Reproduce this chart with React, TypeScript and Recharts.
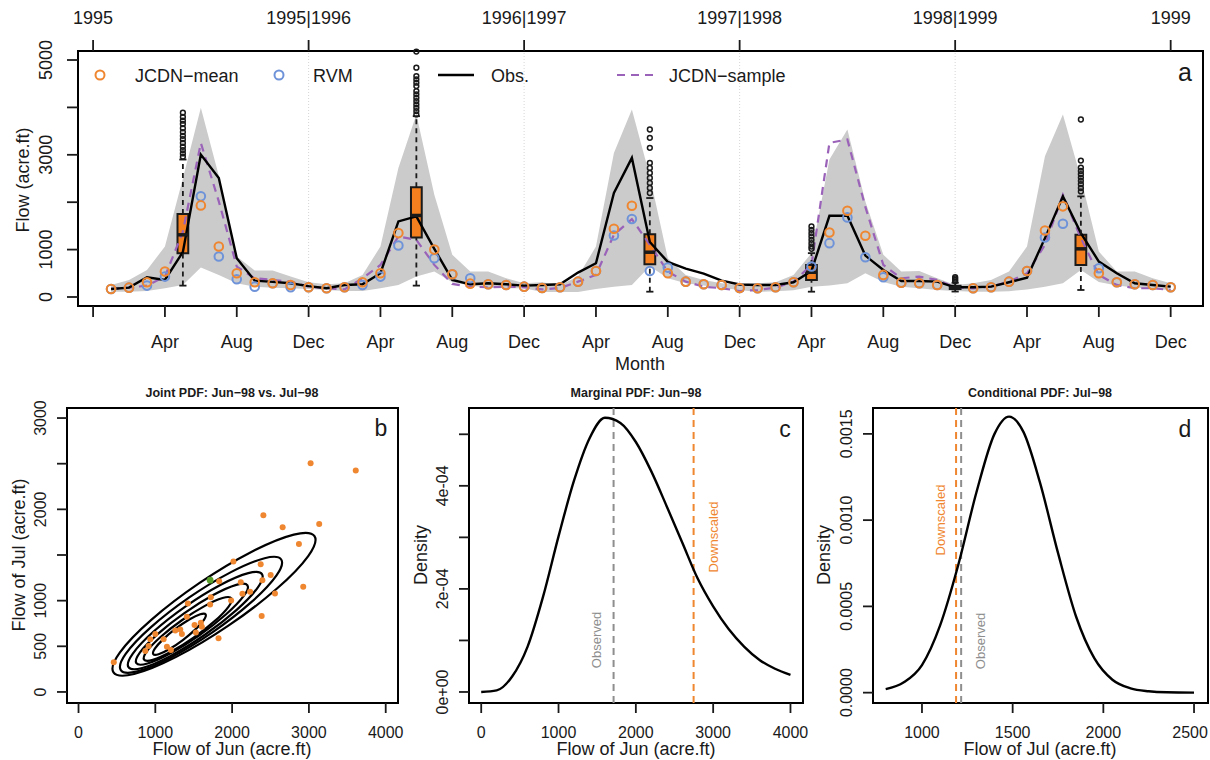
import React from 'react';
import {
  ComposedChart,
  LineChart,
  XAxis,
  YAxis,
  Line,
  Area,
  Scatter,
  ReferenceLine,
  ReferenceArea,
  ReferenceDot,
} from 'recharts';

const FONT = '"Liberation Sans", Arial, Helvetica, sans-serif';
const INK = '#1a1a1a';
const ORANGE = '#EF8630';
const BOXFILL = '#F47F1F';
const BLUE = '#6F93D8';
const PURPLE = '#9A62B8';
const BAND = '#CBCBCB';
const GRAYLINE = '#8E8E8E';
const GREEN = '#5AA02C';

// ---------------- Panel a: monthly flows 1995-1999 ----------------
const monthIndex = [
  1, 2, 3, 4, 5, 6, 7, 8, 9, 10, 11, 12, 13, 14, 15, 16, 17, 18, 19, 20, 21, 22, 23, 24, 25, 26, 27, 28, 29, 30,
  31, 32, 33, 34, 35, 36, 37, 38, 39, 40, 41, 42, 43, 44, 45, 46, 47, 48, 49, 50, 51, 52, 53, 54, 55, 56, 57, 58, 59, 60,
];
const obsFlow = [
  170, 197, 416, 360, 950, 3005, 2512, 818, 345, 320, 290, 230,
  184, 254, 268, 501, 1594, 1700, 1016, 360, 268, 290, 268, 240,
  254, 268, 515, 713, 2194, 2935, 1160, 740, 600, 495, 345, 265,
  254, 254, 311, 550, 1714, 1714, 874, 571, 339, 339, 324, 205,
  205, 218, 311, 409, 1242, 2123, 1348, 748, 501, 290, 254, 218,
];
const sampleFlow = [
  170, 197, 240, 430, 1380, 3250, 2017, 642, 395, 360, 324, 218,
  184, 160, 395, 677, 1276, 1206, 677, 275, 218, 205, 218, 205,
  160, 190, 324, 466, 1312, 1644, 1100, 536, 324, 218, 184, 127,
  148, 197, 324, 677, 3252, 3322, 1900, 677, 395, 430, 360, 205,
  184, 218, 324, 501, 1100, 2158, 1242, 466, 254, 184, 184, 148,
];
const meanFlow: (number | null)[] = [
  170, 197, 311, 536, null, 1932, 1065, 501, 311, 290, 254, 205,
  184, 205, 311, 501, 1348, null, 1000, 480, 282, 268, 254, 218,
  190, 205, 324, 550, 1439, 1926, null, 501, 324, 268, 254, 190,
  184, 205, 311, null, 1361, 1820, 1291, 466, 303, 290, 254, null,
  184, 205, 324, 550, 1403, 1912, null, 501, 311, 268, 254, 205,
];
const rvmFlow: (number | null)[] = [
  170, 197, 240, 430, null, 2123, 853, 374, 218, 290, 205, 205,
  184, 205, 254, 430, 1086, null, 818, 480, 395, 268, 254, 218,
  190, 205, 324, 550, 1298, 1644, 550, 620, 324, 268, 254, 190,
  184, 205, 311, 642, 1136, 1679, 840, 416, 303, 290, 254, null,
  184, 205, 324, 550, 1255, 1545, null, 607, 311, 268, 254, 205,
];
const bandLow = [
  112, 112, 127, 184, 254, 620, 466, 290, 218, 197, 184, 169,
  148, 127, 127, 184, 254, 430, 536, 311, 240, 197, 184, 184,
  106, 106, 106, 169, 218, 254, 650, 395, 290, 240, 197, 148,
  106, 120, 140, 218, 240, 290, 501, 317, 218, 184, 148, 127,
  110, 110, 120, 160, 218, 290, 571, 317, 240, 200, 170, 150,
];
const bandHigh = [
  254, 360, 571, 1065, 2500, 3993, 2560, 853, 560, 560, 430, 311,
  268, 290, 466, 1065, 2723, 3850, 2158, 889, 536, 536, 395, 290,
  311, 254, 430, 1065, 3040, 3957, 2546, 818, 466, 360, 290, 254,
  290, 311, 466, 925, 2899, 3534, 2017, 889, 536, 550, 395, 254,
  290, 360, 536, 1065, 2969, 3851, 2512, 959, 536, 536, 395, 290,
];

// boxplots of JCDN samples
const boxMonths = [5, 18, 31, 40, 48, 55];
const boxLowWhisker = [240, 240, 112, 112, 115, 148];
const boxQ1 = [925, 1255, 691, 360, 170, 677];
const boxMedian = [1312, 1720, 945, 522, 200, 1016];
const boxQ3 = [1750, 2313, 1326, 677, 235, 1312];
const boxHighWhisker = [2900, 3815, 2088, 925, 300, 2123];
const boxOutliers = [
  [2960, 3030, 3100, 3170, 3250, 3330, 3400, 3480, 3560, 3650, 3720, 3800, 3887],
  [3851, 3922, 3993, 4063, 4133, 4204, 4275, 4345, 4451, 4522, 4592, 4662, 4839, 5178],
  [2194, 2300, 2406, 2512, 2617, 2723, 2829, 3147, 3358, 3534],
  [1016, 1065, 1136, 1206, 1276, 1346, 1417, 1488],
  [330, 360, 390, 420],
  [2228, 2300, 2380, 2450, 2520, 2590, 2660, 2730, 2878, 3745],
];

const monthTicks = [0, 4, 8, 12, 16, 20, 24, 28, 32, 36, 40, 44, 48, 52, 56, 60];
const monthTickLabels = ['', 'Apr', 'Aug', 'Dec', 'Apr', 'Aug', 'Dec', 'Apr', 'Aug', 'Dec', 'Apr', 'Aug', 'Dec', 'Apr', 'Aug', 'Dec'];
const yearTicks = [0, 12, 24, 36, 48, 60];
const yearTickLabels = ['1995', '1995|1996', '1996|1997', '1997|1998', '1998|1999', '1999'];
const yearDividers = [12, 24, 36, 48];
const flowTicks = [0, 1000, 2000, 3000, 4000, 5000];
const flowTickLabels = ['0', '1000', '', '3000', '', '5000'];

// ---------------- Panel b: joint PDF ----------------
const jointJun = [
  459, 3022, 3610, 2407, 2658, 3134, 2870, 2017, 2372, 2502, 2394, 2113, 1831, 2926, 2558, 2134, 2234, 1723, 1714,
  1987, 1424, 2385, 1411, 1823, 1593, 1606, 1511, 1528, 1325, 1260, 1346, 1108, 1151, 1203, 1000, 935, 913, 870,
];
const jointJul = [
  325, 2506, 2426, 1934, 1803, 1840, 1621, 1428, 1399, 1282, 1224, 1202, 1213, 1151, 1078, 1075, 1097, 1038, 958,
  1002, 969, 831, 823, 587, 757, 714, 732, 652, 685, 674, 634, 576, 495, 459, 634, 576, 503, 448,
];
const observedJun = [1714];
const observedJul = [1224];
const contourJun = [
  [3134, 2852, 2279, 1568, 909, 480, 394, 676, 1249, 1960, 2619, 3048],
  [2688, 2462, 2003, 1435, 910, 568, 502, 728, 1187, 1755, 2280, 2622],
  [2429, 2243, 1862, 1389, 952, 667, 610, 798, 1178, 1651, 2088, 2374],
  [2234, 2081, 1767, 1374, 1009, 769, 719, 871, 1185, 1578, 1943, 2183],
  [2017, 1897, 1650, 1342, 1055, 867, 827, 947, 1193, 1502, 1788, 1977],
  [1671, 1598, 1448, 1263, 1091, 979, 957, 1030, 1179, 1365, 1536, 1648],
];
const contourJul = [
  [1741, 1759, 1563, 1205, 782, 406, 179, 161, 357, 715, 1138, 1513],
  [1479, 1494, 1334, 1044, 700, 396, 211, 196, 356, 646, 990, 1294],
  [1315, 1326, 1190, 945, 656, 401, 248, 238, 374, 619, 908, 1163],
  [1188, 1193, 1076, 869, 629, 419, 295, 292, 409, 615, 856, 1066],
  [1042, 1044, 952, 790, 601, 436, 339, 336, 428, 590, 779, 944],
  [860, 861, 801, 695, 573, 466, 404, 403, 463, 569, 691, 798],
];
const bXTicks = [0, 1000, 2000, 3000, 4000];
const bXLabels = ['0', '1000', '2000', '3000', '4000'];
const bYTicks = [0, 500, 1000, 1500, 2000, 2500, 3000];
const bYLabels = ['0', '500', '1000', '', '2000', '', '3000'];

// ---------------- Panel c: marginal PDF Jun ----------------
const marginalFlow = [0, 200, 400, 600, 800, 1000, 1200, 1400, 1600, 1800, 2000, 2200, 2400, 2600, 2800, 3000, 3200, 3400, 3600, 3800, 4000];
const marginalDensity = [
  0, 0.000003, 0.00003, 0.000088, 0.000185, 0.000302, 0.00041, 0.000492, 0.000532, 0.000522, 0.000485,
  0.000428, 0.00036, 0.00029, 0.00022, 0.000166, 0.000122, 0.000088, 0.000062, 0.000045, 0.000033,
];
const marginalObserved = 1712;
const marginalDownscaled = 2747;
const cXTicks = [0, 1000, 2000, 3000, 4000];
const cXLabels = ['0', '1000', '2000', '3000', '4000'];
const cYTicks = [0, 0.0001, 0.0002, 0.0003, 0.0004, 0.0005];
const cYLabels = ['0e+00', '', '2e-04', '', '4e-04', ''];

// ---------------- Panel d: conditional PDF Jul ----------------
const condFlow = [800, 900, 1000, 1100, 1200, 1300, 1400, 1480, 1560, 1650, 1750, 1850, 1950, 2050, 2150, 2250, 2350, 2500];
const condDensity = [
  0.00002, 0.00006, 0.00016, 0.00039, 0.00074, 0.00116, 0.0015, 0.0016, 0.00151, 0.00122, 0.00081, 0.00044,
  0.0002, 0.000075, 0.000025, 0.000008, 0.000002, 0.0000003,
];
const condObserved = 1216;
const condDownscaled = 1188;
const dXTicks = [1000, 1500, 2000, 2500];
const dXLabels = ['1000', '1500', '2000', '2500'];
const dXShift = [0, 0, 0, -4];
const dYTicks = [0, 0.0005, 0.001, 0.0015];
const dYLabels = ['0.0000', '0.0005', '0.0010', '0.0015'];

// ---------------- derived tables ----------------
const flowTable = monthIndex.map((m, i) => ({ m, obs: obsFlow[i], sample: sampleFlow[i], lo: bandLow[i], hi: bandHigh[i] }));
const meanPts = monthIndex.map((m, i) => ({ m, v: meanFlow[i] })).filter((p) => p.v !== null);
const rvmPts = monthIndex.map((m, i) => ({ m, v: rvmFlow[i] })).filter((p) => p.v !== null);
const jointPts = jointJun.map((x, i) => ({ x, y: jointJul[i] }));
const obsPts = observedJun.map((x, i) => ({ x, y: observedJul[i] }));
const contours = contourJun.map((xs, k) => xs.map((x, i) => ({ x, y: contourJul[k][i] })));
const marginalData = marginalFlow.map((x, i) => ({ x, d: marginalDensity[i] }));
const condData = condFlow.map((x, i) => ({ x, d: condDensity[i] }));

// ---------------- helpers ----------------
function pickIndex(ticks: number[], v: number): number {
  for (let i = 0; i < ticks.length; i++) {
    if (Math.abs(ticks[i] - v) <= Math.abs(ticks[i]) * 1e-9 + 1e-12) return i;
  }
  return -1;
}
function xTick(ticks: number[], labels: string[], dy: number, size: number, shifts?: number[]) {
  return (p: any) => {
    const i = pickIndex(ticks, p.payload.value);
    const dx = shifts && i >= 0 ? shifts[i] : 0;
    return (
      <text x={p.x + dx} y={p.y} dy={dy} textAnchor="middle" fontSize={size} fontFamily={FONT} fill={INK}>
        {i >= 0 ? labels[i] : ''}
      </text>
    );
  };
}
function yTick(ticks: number[], labels: string[], dx: number, size: number) {
  return (p: any) => {
    const i = pickIndex(ticks, p.payload.value);
    return (
      <text
        transform={`translate(${p.x + dx},${p.y}) rotate(-90)`}
        textAnchor="middle"
        fontSize={size}
        fontFamily={FONT}
        fill={INK}
      >
        {i >= 0 ? labels[i] : ''}
      </text>
    );
  };
}
const tickLineStyle = { stroke: INK, strokeWidth: 1.8 };

const ring = (color: string) => (p: any) =>
  <circle cx={p.cx} cy={p.cy} r={4.3} fill="none" stroke={color} strokeWidth={2} />;
const dotShape = (color: string, r: number) => (p: any) => <circle cx={p.cx} cy={p.cy} r={r} fill={color} stroke="none" />;

const A_X: [number, number] = [-0.84, 61.8];
const A_Y: [number, number] = [-190, 5190];
const B_X: [number, number] = [-150, 4160];
const B_Y: [number, number] = [-121, 3110];
const C_X: [number, number] = [-158, 4162];
const C_Y: [number, number] = [-0.0000214, 0.000551];
const D_X: [number, number] = [730, 2577];
const D_Y: [number, number] = [-0.00006, 0.00165];

function boxElements() {
  const els: any[] = [];
  boxMonths.forEach((m, i) => {
    const w = 0.3;
    const c = 0.2;
    els.push(
      <ReferenceLine key={`wl${i}`} segment={[{ x: m, y: boxLowWhisker[i] }, { x: m, y: boxQ1[i] }]} stroke={INK} strokeWidth={1.8} strokeDasharray="5 4" />,
      <ReferenceLine key={`wh${i}`} segment={[{ x: m, y: boxQ3[i] }, { x: m, y: boxHighWhisker[i] }]} stroke={INK} strokeWidth={1.8} strokeDasharray="5 4" />,
      <ReferenceLine key={`cl${i}`} segment={[{ x: m - c, y: boxLowWhisker[i] }, { x: m + c, y: boxLowWhisker[i] }]} stroke={INK} strokeWidth={1.8} />,
      <ReferenceLine key={`ch${i}`} segment={[{ x: m - c, y: boxHighWhisker[i] }, { x: m + c, y: boxHighWhisker[i] }]} stroke={INK} strokeWidth={1.8} />,
      <ReferenceArea key={`bx${i}`} x1={m - w} x2={m + w} y1={boxQ1[i]} y2={boxQ3[i]} fill={BOXFILL} fillOpacity={1} stroke={INK} strokeWidth={2} ifOverflow="visible" />,
      <ReferenceLine key={`md${i}`} segment={[{ x: m - w, y: boxMedian[i] }, { x: m + w, y: boxMedian[i] }]} stroke={INK} strokeWidth={3.5} />,
    );
    boxOutliers[i].forEach((o, j) => {
      els.push(<ReferenceDot key={`o${i}_${j}`} x={m} y={o} r={2.4} fill="none" stroke={INK} strokeWidth={1.5} ifOverflow="visible" />);
    });
  });
  return els;
}

function TopPanel() {
  return (
    <ComposedChart width={1210} height={380} data={flowTable} margin={{ top: 11, right: 7, bottom: 34, left: 18 }}>
      <XAxis
        type="number"
        dataKey="m"
        domain={A_X}
        allowDataOverflow
        ticks={monthTicks}
        interval={0}
        height={40}
        tickSize={11}
        tickMargin={0}
        axisLine={false}
        tickLine={tickLineStyle}
        tick={xTick(monthTicks, monthTickLabels, 31, 18)}
      />
      <XAxis
        xAxisId="top"
        orientation="top"
        type="number"
        dataKey="m"
        domain={A_X}
        allowDataOverflow
        ticks={yearTicks}
        interval={0}
        height={40}
        tickSize={11}
        tickMargin={0}
        axisLine={false}
        tickLine={tickLineStyle}
        tick={xTick(yearTicks, yearTickLabels, -16, 18)}
      />
      <YAxis
        type="number"
        domain={A_Y}
        allowDataOverflow
        ticks={flowTicks}
        interval={0}
        width={60}
        tickSize={11}
        tickMargin={0}
        axisLine={false}
        tickLine={tickLineStyle}
        tick={yTick(flowTicks, flowTickLabels, -15, 18)}
      />
      {yearDividers.map((m) => (
        <ReferenceLine key={`yd${m}`} x={m} stroke="#d6d6d6" strokeWidth={1} strokeDasharray="1 2" />
      ))}
      <Area type="linear" dataKey={(d: any) => [d.lo, d.hi]} fill={BAND} fillOpacity={1} stroke="none" isAnimationActive={false} />
      <Line type="linear" dataKey="sample" stroke={PURPLE} strokeWidth={2.2} strokeDasharray="8 6" dot={false} isAnimationActive={false} />
      <Line type="linear" dataKey="obs" stroke="#000" strokeWidth={2.4} dot={false} isAnimationActive={false} />
      <Scatter data={rvmPts} dataKey="v" shape={ring(BLUE)} isAnimationActive={false} />
      <Scatter data={meanPts} dataKey="v" shape={ring(ORANGE)} isAnimationActive={false} />
      {boxElements()}
      <ReferenceArea x1={A_X[0]} x2={A_X[1]} y1={A_Y[0]} y2={A_Y[1]} fill="none" stroke="#000" strokeWidth={2} ifOverflow="visible" />
    </ComposedChart>
  );
}

function JointPanel() {
  return (
    <ComposedChart width={410} height={380} margin={{ top: 28, right: 12, bottom: 17, left: 17 }}>
      <XAxis
        type="number"
        dataKey="x"
        domain={B_X}
        allowDataOverflow
        ticks={bXTicks}
        interval={0}
        height={40}
        tickSize={10}
        tickMargin={0}
        axisLine={false}
        tickLine={tickLineStyle}
        tick={xTick(bXTicks, bXLabels, 25, 16)}
      />
      <YAxis
        type="number"
        domain={B_Y}
        allowDataOverflow
        ticks={bYTicks}
        interval={0}
        width={50}
        tickSize={10}
        tickMargin={0}
        axisLine={false}
        tickLine={tickLineStyle}
        tick={yTick(bYTicks, bYLabels, -11, 16)}
      />
      {contours.map((c, k) => (
        <Line key={`ct${k}`} data={c} dataKey="y" type="basisClosed" stroke="#000" strokeWidth={2.2} dot={false} isAnimationActive={false} />
      ))}
      <Scatter data={jointPts} dataKey="y" shape={dotShape(ORANGE, 3)} isAnimationActive={false} />
      <Scatter data={obsPts} dataKey="y" shape={dotShape(GREEN, 3.4)} isAnimationActive={false} />
      <ReferenceArea x1={B_X[0]} x2={B_X[1]} y1={B_Y[0]} y2={B_Y[1]} fill="none" stroke="#000" strokeWidth={2} ifOverflow="visible" />
    </ComposedChart>
  );
}

function MarginalPanel() {
  return (
    <LineChart width={400} height={380} data={marginalData} margin={{ top: 28, right: 7, bottom: 17, left: 9 }}>
      <XAxis
        type="number"
        dataKey="x"
        domain={C_X}
        allowDataOverflow
        ticks={cXTicks}
        interval={0}
        height={40}
        tickSize={10}
        tickMargin={0}
        axisLine={false}
        tickLine={tickLineStyle}
        tick={xTick(cXTicks, cXLabels, 25, 16)}
      />
      <YAxis
        type="number"
        domain={C_Y}
        allowDataOverflow
        ticks={cYTicks}
        interval={0}
        width={50}
        tickSize={10}
        tickMargin={0}
        axisLine={false}
        tickLine={tickLineStyle}
        tick={yTick(cYTicks, cYLabels, -11, 16)}
      />
      <ReferenceLine x={marginalObserved} stroke={GRAYLINE} strokeWidth={2} strokeDasharray="7 5" />
      <ReferenceLine x={marginalDownscaled} stroke={ORANGE} strokeWidth={2} strokeDasharray="7 5" />
      <Line type="monotone" dataKey="d" stroke="#000" strokeWidth={2.4} dot={false} isAnimationActive={false} />
      <ReferenceArea x1={C_X[0]} x2={C_X[1]} y1={C_Y[0]} y2={C_Y[1]} fill="none" stroke="#000" strokeWidth={2} ifOverflow="visible" />
    </LineChart>
  );
}

function ConditionalPanel() {
  return (
    <LineChart width={400} height={380} data={condData} margin={{ top: 28, right: 2, bottom: 17, left: 8 }}>
      <XAxis
        type="number"
        dataKey="x"
        domain={D_X}
        allowDataOverflow
        ticks={dXTicks}
        interval={0}
        height={40}
        tickSize={10}
        tickMargin={0}
        axisLine={false}
        tickLine={tickLineStyle}
        tick={xTick(dXTicks, dXLabels, 25, 16, dXShift)}
      />
      <YAxis
        type="number"
        domain={D_Y}
        allowDataOverflow
        ticks={dYTicks}
        interval={0}
        width={55}
        tickSize={10}
        tickMargin={0}
        axisLine={false}
        tickLine={tickLineStyle}
        tick={yTick(dYTicks, dYLabels, -11, 16)}
      />
      <ReferenceLine x={condDownscaled} stroke={ORANGE} strokeWidth={2} strokeDasharray="7 5" />
      <ReferenceLine x={condObserved} stroke={GRAYLINE} strokeWidth={2} strokeDasharray="7 5" />
      <Line type="monotone" dataKey="d" stroke="#000" strokeWidth={2.4} dot={false} isAnimationActive={false} />
      <ReferenceArea x1={D_X[0]} x2={D_X[1]} y1={D_Y[0]} y2={D_Y[1]} fill="none" stroke="#000" strokeWidth={2} ifOverflow="visible" />
    </LineChart>
  );
}

function Overlay() {
  const t = { fontFamily: FONT, fill: INK } as const;
  return (
    <svg width={1210} height={760} style={{ position: 'absolute', left: 0, top: 0, pointerEvents: 'none' }}>
      {/* legend of panel a */}
      <circle cx={100} cy={75} r={4.5} fill="none" stroke={ORANGE} strokeWidth={2} />
      <text x={135} y={82} fontSize={18} {...t}>JCDN−mean</text>
      <circle cx={279} cy={75} r={4.5} fill="none" stroke={BLUE} strokeWidth={2} />
      <text x={313} y={82} fontSize={18} {...t}>RVM</text>
      <line x1={438} y1={75} x2={474} y2={75} stroke="#000" strokeWidth={2.4} />
      <text x={491} y={82} fontSize={18} {...t}>Obs.</text>
      <line x1={617} y1={75} x2={653} y2={75} stroke={PURPLE} strokeWidth={2.2} strokeDasharray="8 6" />
      <text x={669} y={82} fontSize={18} {...t}>JCDN−sample</text>
      <text x={1185} y={81} fontSize={25} textAnchor="middle" {...t}>a</text>
      {/* axis titles panel a */}
      <text transform="translate(29,180) rotate(-90)" fontSize={18} textAnchor="middle" {...t}>Flow (acre.ft)</text>
      <text x={640} y={370} fontSize={18} textAnchor="middle" {...t}>Month</text>

      {/* panel titles */}
      <text x={232} y={397} fontSize={12.5} fontWeight="bold" textAnchor="middle" {...t}>Joint PDF: Jun−98 vs. Jul−98</text>
      <text x={636} y={397} fontSize={12.5} fontWeight="bold" textAnchor="middle" {...t}>Marginal PDF: Jun−98</text>
      <text x={1040} y={397} fontSize={12.5} fontWeight="bold" textAnchor="middle" {...t}>Conditional PDF: Jul−98</text>

      {/* panel letters */}
      <text x={381} y={436} fontSize={23} textAnchor="middle" {...t}>b</text>
      <text x={785} y={437} fontSize={23} textAnchor="middle" {...t}>c</text>
      <text x={1185} y={437} fontSize={23} textAnchor="middle" {...t}>d</text>

      {/* axis titles bottom row */}
      <text x={232} y={755} fontSize={18} textAnchor="middle" {...t}>Flow of Jun (acre.ft)</text>
      <text x={636} y={755} fontSize={18} textAnchor="middle" {...t}>Flow of Jun (acre.ft)</text>
      <text x={1040} y={755} fontSize={18} textAnchor="middle" {...t}>Flow of Jul (acre.ft)</text>
      <text transform="translate(25,555) rotate(-90)" fontSize={18} textAnchor="middle" {...t}>Flow of Jul (acre.ft)</text>
      <text transform="translate(427,555) rotate(-90)" fontSize={18} textAnchor="middle" {...t}>Density</text>
      <text transform="translate(830,555) rotate(-90)" fontSize={18} textAnchor="middle" {...t}>Density</text>

      {/* vertical line annotations */}
      <text transform="translate(601,640) rotate(-90)" fontSize={13} textAnchor="middle" fontFamily={FONT} fill={GRAYLINE}>Observed</text>
      <text transform="translate(718,537) rotate(-90)" fontSize={13} textAnchor="middle" fontFamily={FONT} fill={ORANGE}>Downscaled</text>
      <text transform="translate(945,520) rotate(-90)" fontSize={13} textAnchor="middle" fontFamily={FONT} fill={ORANGE}>Downscaled</text>
      <text transform="translate(985,641) rotate(-90)" fontSize={13} textAnchor="middle" fontFamily={FONT} fill={GRAYLINE}>Observed</text>
    </svg>
  );
}

export default function App() {
  return (
    <div style={{ position: 'absolute', left: 0, top: 0, width: 1210, height: 760, background: '#fff', fontFamily: FONT, overflow: 'hidden' }}>
      <div style={{ position: 'absolute', left: 0, top: 0 }}>
        <TopPanel />
      </div>
      <div style={{ position: 'absolute', left: 0, top: 380 }}>
        <JointPanel />
      </div>
      <div style={{ position: 'absolute', left: 410, top: 380 }}>
        <MarginalPanel />
      </div>
      <div style={{ position: 'absolute', left: 810, top: 380 }}>
        <ConditionalPanel />
      </div>
      <Overlay />
    </div>
  );
}
